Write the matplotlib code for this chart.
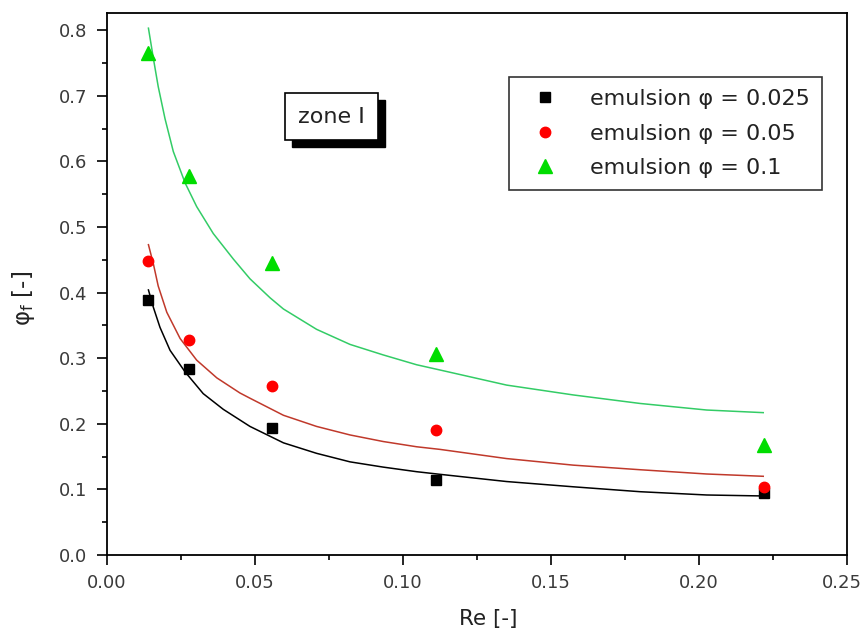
import matplotlib
matplotlib.use('Agg')
import matplotlib.pyplot as plt
from matplotlib.patches import Rectangle
from matplotlib.transforms import ScaledTranslation

plt.rcParams['font.family'] = ['DejaVu Sans']

# measured points
re_pts = [0.0139, 0.0278, 0.0556, 0.111, 0.222]
phi_0025 = [0.388, 0.283, 0.193, 0.114, 0.095]
phi_005 = [0.448, 0.327, 0.258, 0.191, 0.104]
phi_01 = [0.765, 0.577, 0.445, 0.307, 0.167]

# fitted curves
fit_re_k = [0.0140, 0.0157, 0.0179, 0.0213, 0.0264, 0.0325, 0.0393, 0.0483,
            0.0596, 0.0708, 0.0821, 0.0933, 0.1046, 0.1125, 0.1350, 0.1575,
            0.1801, 0.2026, 0.2217]
fit_k = [0.404, 0.377, 0.347, 0.312, 0.279, 0.246, 0.222, 0.196,
         0.171, 0.155, 0.142, 0.134, 0.127, 0.123, 0.112, 0.104,
         0.0965, 0.0915, 0.090]

fit_re_r = [0.0140, 0.0157, 0.0173, 0.0202, 0.0247, 0.0303, 0.0371, 0.0449,
            0.0483, 0.0596, 0.0708, 0.0821, 0.0933, 0.1046, 0.1125, 0.1350,
            0.1575, 0.1801, 0.2026, 0.2217]
fit_r = [0.473, 0.443, 0.410, 0.370, 0.330, 0.297, 0.270, 0.247,
         0.239, 0.213, 0.196, 0.183, 0.173, 0.165, 0.161, 0.147,
         0.137, 0.130, 0.1235, 0.120]

fit_re_g = [0.0140, 0.0157, 0.0173, 0.0196, 0.0224, 0.0264, 0.0303, 0.0359,
            0.0427, 0.0483, 0.0551, 0.0596, 0.0708, 0.0821, 0.0933, 0.1046,
            0.1125, 0.1350, 0.1575, 0.1801, 0.2026, 0.2217]
fit_g = [0.803, 0.756, 0.714, 0.665, 0.615, 0.567, 0.531, 0.490,
         0.451, 0.421, 0.392, 0.375, 0.344, 0.321, 0.305, 0.290,
         0.282, 0.259, 0.244, 0.231, 0.221, 0.217]

labels = ['emulsion φ = 0.025', 'emulsion φ = 0.05', 'emulsion φ = 0.1']

fig = plt.figure(figsize=(8.65, 6.32), dpi=100)
ax = fig.add_axes([0.1237, 0.1218, 0.8555, 0.8575])

ax.plot(fit_re_k, fit_k, '-', color='black', lw=1.1)
ax.plot(fit_re_r, fit_r, '-', color='#c0392b', lw=1.1)
ax.plot(fit_re_g, fit_g, '-', color='#33cc66', lw=1.1)

h1, = ax.plot(re_pts, phi_0025, 's', color='black', ms=7.5, ls='none')
h2, = ax.plot(re_pts, phi_005, 'o', color='#ff0000', ms=7.5, ls='none')
h3, = ax.plot(re_pts, phi_01, '^', color='#00dd00', ms=10, ls='none')

ax.set_xlim(0, 0.25)
ax.set_ylim(0, 0.826)
ax.set_xticks([0, 0.05, 0.10, 0.15, 0.20, 0.25])
ax.set_xticklabels(['0.00', '0.05', '0.10', '0.15', '0.20', '0.25'])
ax.set_xticks([0.025, 0.075, 0.125, 0.175, 0.225], minor=True)
ax.set_yticks([0.0, 0.1, 0.2, 0.3, 0.4, 0.5, 0.6, 0.7, 0.8])
ax.set_yticklabels(['0.0', '0.1', '0.2', '0.3', '0.4', '0.5', '0.6', '0.7', '0.8'])
ax.set_yticks([0.05, 0.15, 0.25, 0.35, 0.45, 0.55, 0.65, 0.75], minor=True)

ax.tick_params(which='major', direction='out', length=7, width=1.2,
               labelsize=13, labelcolor='#3a3a3a', pad=7)
ax.tick_params(which='minor', direction='out', length=3.6, width=1.2)
ax.tick_params(top=False, right=False)
for s in ax.spines.values():
    s.set_linewidth(1.3)

# keep the last x tick label inside the figure
last = ax.get_xticklabels()[-1]
last.set_transform(last.get_transform() + ScaledTranslation(-4 / 72, 0, fig.dpi_scale_trans))

ax.set_xlabel('Re [-]', fontsize=15.5, color='#222222')
ax.xaxis.set_label_coords(0.515, -0.100)
ax.set_ylabel(r'φ$_\mathregular{f}$ [-]', fontsize=16.5, color='#222222')
ax.yaxis.set_label_coords(-0.095, 0.474)

leg = ax.legend([h1, h2, h3], labels, loc='upper left',
                bbox_to_anchor=(0.543, 0.882), fontsize=16, frameon=True,
                fancybox=False, edgecolor='black', borderpad=0.55,
                handletextpad=0.96, handlelength=2.14, labelspacing=0.65,
                borderaxespad=0)
leg.get_frame().set_linewidth(1.2)
for t in leg.get_texts():
    t.set_color('#222222')

# "zone I" box with drop shadow
ax.add_patch(Rectangle((0.2500, 0.752), 0.1262, 0.087, transform=ax.transAxes,
                       facecolor='black', edgecolor='black', zorder=4))
ax.add_patch(Rectangle((0.2405, 0.766), 0.1257, 0.087, transform=ax.transAxes,
                       facecolor='white', edgecolor='black', lw=1.2, zorder=5))
ax.text(0.3033, 0.809, 'zone I', transform=ax.transAxes, fontsize=16,
        ha='center', va='center', color='#222222', zorder=6)

fig.savefig('out.png', dpi=100)
